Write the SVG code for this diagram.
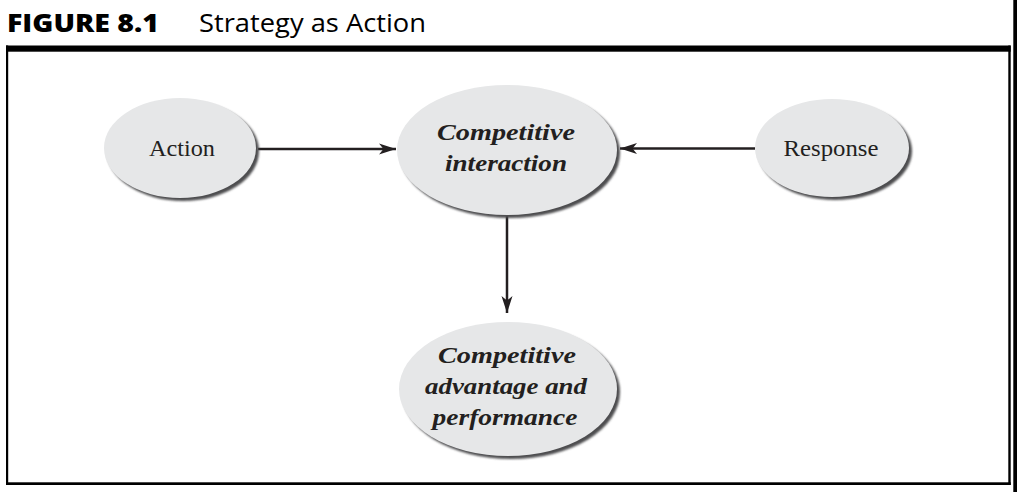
<svg xmlns="http://www.w3.org/2000/svg" width="1017" height="492" viewBox="0 0 1017 492">
<style>
.bg{fill:#ffffff}
.frame{fill:#000000}
.node{fill:#e6e7e8}
.shadow{fill:#4d4d4f}
.lbl{font-family:"Liberation Serif","Times New Roman",serif;font-size:23px;fill:#231f20;text-anchor:middle}
.bi{font-weight:bold;font-style:italic}
.edge{stroke:#231f20;stroke-width:2.5;fill:none}
.t1{font-family:"Open Sans","Liberation Sans",sans-serif;font-size:25px;font-weight:800;fill:#000}
.t2{font-family:"Open Sans","Liberation Sans",sans-serif;font-size:25px;fill:#000}
</style>
<defs>
<marker id="arr" markerUnits="userSpaceOnUse" markerWidth="18" markerHeight="12" viewBox="0 0 18 12" refX="17" refY="6" orient="auto">
<path d="M0,0.5 L17,6 L0,11.5 L4.5,6 Z" fill="#231f20"/>
</marker>
<filter id="blur" x="-10%" y="-10%" width="120%" height="120%"><feGaussianBlur stdDeviation="0.8"/></filter>
</defs>
<rect class="bg" x="0" y="0" width="1017" height="492"/>
<g id="title">
<text class="t1" x="7" y="32" textLength="152" lengthAdjust="spacingAndGlyphs">FIGURE 8.1</text>
<text class="t2" x="199" y="32" textLength="227" lengthAdjust="spacingAndGlyphs">Strategy as Action</text>
</g>
<g id="frame">
<rect class="frame" x="6" y="45.5" width="1004.7" height="6.2"/>
<rect class="frame" x="6" y="45.5" width="2.2" height="439.5"/>
<rect class="frame" x="6" y="482.3" width="1004.7" height="2.7"/>
<rect class="frame" x="1008.3" y="45.5" width="2.4" height="439.5"/>
<rect class="frame" x="1013.3" y="0" width="3.7" height="492"/>
</g>
<g id="connectors">
<line class="edge" x1="258" y1="149" x2="396" y2="149" marker-end="url(#arr)"/>
<line class="edge" x1="755" y1="148.5" x2="620" y2="148.5" marker-end="url(#arr)"/>
<line class="edge" x1="507" y1="216" x2="507" y2="313" marker-end="url(#arr)"/>
</g>
<g id="action">
<ellipse class="shadow" cx="183" cy="151" rx="76" ry="50" filter="url(#blur)"/>
<ellipse class="node" cx="180" cy="148" rx="76" ry="50"/>
<text class="lbl" x="182" y="156" textLength="66" lengthAdjust="spacingAndGlyphs">Action</text>
</g>
<g id="competitive-interaction">
<ellipse class="shadow" cx="510" cy="153" rx="110" ry="65" filter="url(#blur)"/>
<ellipse class="node" cx="507" cy="150" rx="110" ry="65"/>
<text class="lbl bi" x="506" y="139.5" textLength="138" lengthAdjust="spacingAndGlyphs">Competitive</text>
<text class="lbl bi" x="506" y="170.5" textLength="122" lengthAdjust="spacingAndGlyphs">interaction</text>
</g>
<g id="response">
<ellipse class="shadow" cx="835" cy="151" rx="77" ry="49" filter="url(#blur)"/>
<ellipse class="node" cx="832" cy="148" rx="77" ry="49"/>
<text class="lbl" x="831" y="156" textLength="95" lengthAdjust="spacingAndGlyphs">Response</text>
</g>
<g id="advantage">
<ellipse class="shadow" cx="511" cy="392" rx="109" ry="67" filter="url(#blur)"/>
<ellipse class="node" cx="508" cy="389" rx="109" ry="67"/>
<text class="lbl bi" x="507" y="363" textLength="138" lengthAdjust="spacingAndGlyphs">Competitive</text>
<text class="lbl bi" x="506" y="394" textLength="162" lengthAdjust="spacingAndGlyphs">advantage and</text>
<text class="lbl bi" x="505" y="425" textLength="145" lengthAdjust="spacingAndGlyphs">performance</text>
</g>
</svg>
